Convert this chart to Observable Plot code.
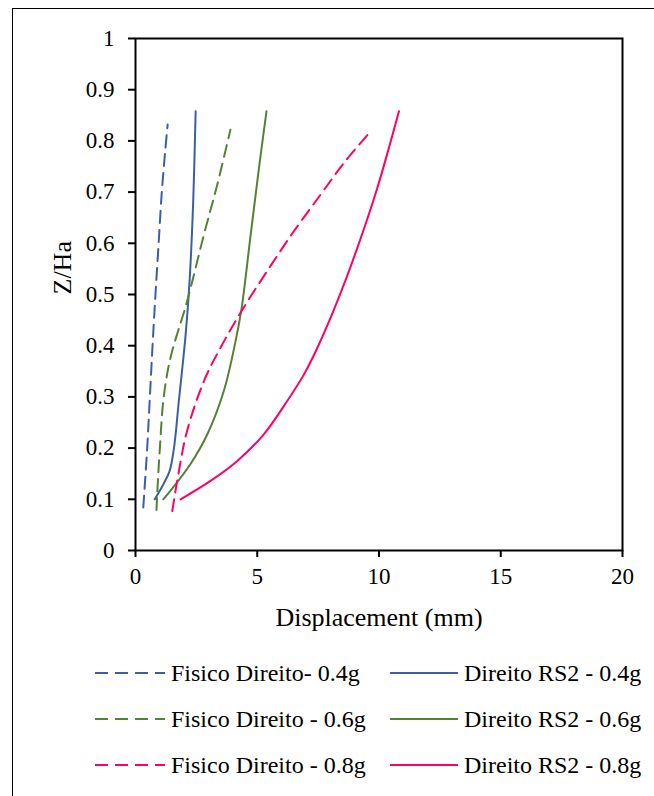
<!DOCTYPE html>
<html>
<head>
<meta charset="utf-8">
<script src="https://cdn.jsdelivr.net/npm/d3@7"></script>
<script src="https://cdn.jsdelivr.net/npm/@observablehq/plot@0.6"></script>
<style>
  html, body { margin: 0; padding: 0; background: #fff; }
  #wrap { position: relative; width: 654px; height: 796px; overflow: hidden; font-family: "Liberation Serif", "Times New Roman", serif; }
  #border { position: absolute; left: 12px; top: 8px; width: 700px; height: 820px; border-left: 1.5px solid #000; border-top: 1.5px solid #000; }
  #chart { position: absolute; left: 0; top: 0; }
  .leg { position: absolute; display: flex; align-items: center; font-size: 24px; color: #000; white-space: nowrap; }
  .leg svg { display: block; margin-right: 6px; }
</style>
</head>
<body>
<div id="wrap">
  <div id="border"></div>
  <div id="chart"></div>
  <div id="legend"></div>
</div>
<script>
// ---- data ----
const xTicks = [0, 5, 10, 15, 20];
const yTicks = [0, 0.1, 0.2, 0.3, 0.4, 0.5, 0.6, 0.7, 0.8, 0.9, 1];
const xLabel = "Displacement (mm)";
const yLabel = "Z/Ha";

const seriesNames = [
  "Fisico Direito- 0.4g", "Direito RS2 - 0.4g",
  "Fisico Direito - 0.6g", "Direito RS2 - 0.6g",
  "Fisico Direito - 0.8g", "Direito RS2 - 0.8g"
];
const seriesColors = ["#3B5EA6", "#3B5EA6", "#548235", "#548235", "#FF0066", "#FF0066"];
const seriesDashed = [true, false, true, false, true, false];

const fisico04X = [0.32, 0.48, 0.59, 0.70, 0.82, 0.95, 1.08, 1.22, 1.32];
const fisico04Y = [0.084, 0.2, 0.3, 0.4, 0.5, 0.6, 0.7, 0.78, 0.832];
const rs204X = [0.79, 1.15, 1.40, 1.58, 1.78, 2.06, 2.22, 2.37, 2.47];
const rs204Y = [0.1, 0.13, 0.155, 0.2, 0.292, 0.422, 0.526, 0.682, 0.858];
const fisico06X = [0.86, 0.92, 1.0, 1.16, 1.44, 2.12, 2.81, 3.36, 3.9];
const fisico06Y = [0.079, 0.136, 0.2, 0.3, 0.377, 0.487, 0.617, 0.715, 0.822];
const rs206X = [1.14, 1.44, 2.26, 2.95, 3.63, 4.11, 4.36, 4.73, 5.07, 5.38];
const rs206Y = [0.1, 0.117, 0.169, 0.227, 0.312, 0.409, 0.474, 0.617, 0.747, 0.858];
const fisico08X = [1.51, 1.8, 2.12, 2.81, 3.49, 4.32, 5.41, 6.51, 7.6, 8.56, 9.59];
const fisico08Y = [0.077, 0.16, 0.234, 0.331, 0.396, 0.465, 0.546, 0.624, 0.695, 0.757, 0.815];
const rs208X = [1.85, 3.08, 4.18, 5.27, 6.23, 6.92, 7.47, 8.29, 9.11, 9.93, 10.48, 10.82];
const rs208Y = [0.1, 0.136, 0.175, 0.227, 0.292, 0.344, 0.396, 0.487, 0.591, 0.708, 0.799, 0.858];

const seriesX = [fisico04X, rs204X, fisico06X, rs206X, fisico08X, rs208X];
const seriesY = [fisico04Y, rs204Y, fisico06Y, rs206Y, fisico08Y, rs208Y];

// ---- build ----
const lineMarks = seriesNames.map((name, i) => {
  const pts = seriesX[i].map((x, j) => ({x, y: seriesY[i][j]}));
  return Plot.line(pts, {
    x: "x", y: "y", curve: "catmull-rom",
    stroke: seriesColors[i], strokeWidth: 2,
    strokeDasharray: seriesDashed[i] ? "12,7" : null
  });
});

const fmt = d => String(+(+d).toFixed(1));

const chart = Plot.plot({
  width: 654, height: 650,
  marginLeft: 135, marginRight: 32, marginTop: 38, marginBottom: 100,
  x: {domain: [0, 20]},
  y: {domain: [0, 1]},
  style: {fontFamily: "Liberation Serif, Times New Roman, serif", fontSize: "23px", color: "#000", background: "transparent"},
  marks: [
    ...lineMarks,
    Plot.frame({stroke: "#000", strokeWidth: 2}),
    Plot.axisX({ticks: xTicks, tickSize: 7, tickPadding: 10, tickFormat: fmt, label: null, strokeWidth: 2, fontSize: 23}),
    Plot.axisY({ticks: yTicks, tickSize: 7, tickPadding: 14, tickFormat: fmt, label: null, strokeWidth: 2, fontSize: 23}),
    Plot.text([xLabel], {text: d => d, frameAnchor: "bottom", dy: 67, fontSize: 26, lineAnchor: "middle"}),
    Plot.text([yLabel], {text: d => d, frameAnchor: "left", dx: -73, rotate: -90, fontSize: 26, lineAnchor: "middle"})
  ]
});
document.getElementById("chart").appendChild(chart);

// legend
const legend = document.getElementById("legend");
const legPos = [
  {lx: 95, ty: 673}, {lx: 390, ty: 673},
  {lx: 95, ty: 719}, {lx: 390, ty: 719},
  {lx: 95, ty: 765}, {lx: 390, ty: 765}
];
seriesNames.forEach((name, i) => {
  const p = legPos[i];
  const w = i % 2 === 0 ? 70 : 68;
  const d = document.createElement("div");
  d.className = "leg";
  d.style.left = p.lx + "px";
  d.style.top = (p.ty - 15) + "px";
  d.style.height = "30px";
  d.innerHTML = `<svg width="${w}" height="6"><line x1="0" y1="3" x2="${w}" y2="3" stroke="${seriesColors[i]}" stroke-width="2" ${seriesDashed[i] ? 'stroke-dasharray="13,7"' : ''}/></svg><span>${name}</span>`;
  legend.appendChild(d);
});
</script>
</body>
</html>
